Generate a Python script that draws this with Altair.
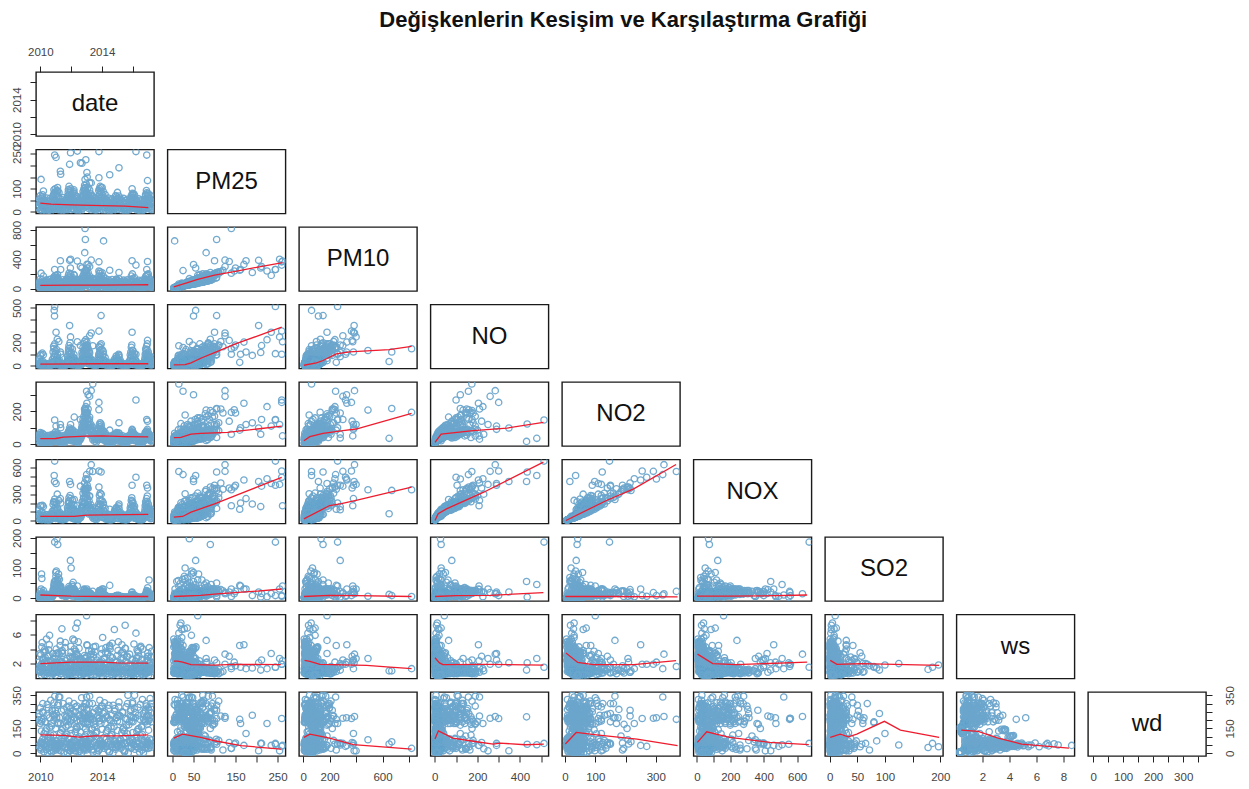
import altair as alt
import pandas as pd

FONT = "Liberation Sans"
COLS = ["date", "PM25", "PM10", "NO", "NO2", "NOX", "SO2", "ws", "wd"]

# date, PM25, PM10, NO, NO2, NOX, SO2, ws, wd
rows_extreme = [
(2010.93,245,260,513,147,672,186,1.5,60),(2010.90,55,63,479,35,510,45,2.7,52),(2010.92,50,115,431,16,442,55,1.1,220),
(2013.94,105,150,434,123,550,3,2.1,55),(2011.90,205,385,348,98,442,20,2.1,16),(2012.90,140,820,148,194,350,5,1.3,30),
(2012.92,105,670,120,218,342,8,1.0,70),(2014.10,5,650,38,35,80,12,1.0,56),(2012.88,80,490,133,208,350,6,2.7,82),
(2013.40,15,63,174,368,555,22,1.6,205),(2013.00,25,245,158,323,520,10,1.3,340),(2013.10,50,328,120,302,470,8,2.2,215),
(2013.30,125,388,284,327,632,14,3.3,222),(2013.20,125,300,260,292,557,18,1.9,212),(2013.80,260,365,300,255,560,8,1.9,210),
(2012.95,225,240,226,229,473,4,1.3,180),(2012.40,262,375,208,50,170,40,2.4,48),(2016.20,260,320,100,270,490,6,1.9,42),
(2016.90,245,260,105,150,400,8,1.5,55),(2011.02,235,180,290,110,420,15,3.4,48),(2011.10,90,130,230,60,300,20,1.0,28),
(2011.20,40,100,210,30,230,18,1.4,340),(2011.96,255,400,250,120,410,30,2.7,15),(2011.95,55,280,80,37,125,125,2.0,50),
(2012.00,30,70,30,20,50,100,1.8,120),(2012.60,212,300,175,150,390,15,2.5,60),(2013.02,170,330,205,250,460,30,4.6,48),
(2013.04,150,280,180,190,400,22,1.7,62),(2013.80,147,240,160,210,380,14,2.2,56),(2011.30,175,380,120,120,250,30,1.3,120),
(2011.32,162,260,100,100,200,40,1.5,180),(2016.95,135,370,220,140,370,20,3.0,65),(2017.05,60,150,30,40,70,60,2.0,200),
(2010.05,140,210,100,60,170,30,1.6,30),(2010.08,45,80,22,30,55,80,1.6,190),(2010.10,30,60,18,25,45,65,2.0,60),
(2015.95,100,380,290,90,400,20,2.5,60),(2011.08,40,135,27,42,70,197,1.8,40),(2011.13,90,150,30,40,75,178,1.2,35),
(2013.00,60,180,45,100,160,10,8.6,48),(2012.40,20,60,12,30,40,5,7.6,50),(2015.50,18,40,8,18,28,3,7.3,58),
(2011.40,28,50,15,28,45,8,6.8,60),(2012.30,35,90,30,70,110,12,6.9,45),(2014.80,22,75,20,60,85,3,6.7,52),
(2016.20,15,35,6,22,30,2,6.2,40),(2012.20,80,180,65,165,240,30,5.2,215),(2010.60,45,90,20,30,55,8,5.9,62),
(2014.50,160,250,30,85,130,42,4.5,205),(2015.10,190,220,90,130,190,8,1.4,230),(2012.70,210,280,115,60,160,3,1.1,60),
]
rows_2010 = [
(2009.92,30,55,20,35,60,6,1.6,240),(2009.95,55,90,60,60,125,10,1.1,200),(2010.00,70,130,90,70,170,22,0.8,180),(2010.03,12,25,5,18,25,3,3.2,60),
(2010.06,48,80,38,52,95,9,1.3,70),(2010.10,8,20,3,14,18,2,4.3,45),(2010.13,65,120,110,65,175,15,1.0,250),(2010.16,24,50,18,30,50,5,2.5,300),
(2010.20,90,170,95,60,160,25,0.7,210),(2010.24,15,30,8,22,32,4,3.6,55),(2010.28,38,65,15,28,45,7,2.2,80),(2010.32,6,15,2,10,12,1,2.8,190),
(2010.37,25,45,10,25,38,5,1.9,25),(2010.42,18,35,4,15,20,3,2.4,230),(2010.47,10,25,3,12,16,2,3.0,90),(2010.52,14,28,2,14,16,3,1.7,275),
(2010.58,7,20,1,8,10,1,4.6,38),(2010.63,20,42,6,20,28,4,1.4,15),(2010.68,12,30,5,22,28,3,2.1,320),(2010.72,28,60,12,34,48,6,1.2,165),
(2010.76,35,75,30,42,75,8,1.8,260),(2010.80,16,36,10,30,42,5,3.4,68),(2010.83,60,110,120,60,185,28,0.9,235),(2010.86,75,145,170,40,215,25,0.8,110),
(2010.88,95,160,150,55,210,30,0.7,200),(2010.90,40,70,85,45,135,38,1.0,30),(2010.94,85,140,190,50,245,25,0.8,345),(2010.97,100,175,130,72,205,30,1.2,260),
]
rows_2011 = [
(2011.00,50,85,50,58,110,85,1.4,75),(2011.03,22,40,15,22,38,30,4.0,50),(2011.06,78,120,140,50,195,35,0.9,215),(2011.09,92,150,75,68,145,45,1.1,40),
(2011.12,105,190,95,40,140,50,0.8,290),(2011.15,35,60,28,30,60,45,2.6,62),(2011.18,62,105,40,44,85,80,1.5,185),(2011.22,18,36,8,20,30,25,3.3,20),
(2011.26,45,80,45,48,95,40,1.7,340),(2011.30,12,28,4,15,20,15,5.1,48),(2011.36,28,55,14,26,42,18,2.3,255),(2011.42,9,24,3,12,16,10,3.8,72),
(2011.48,20,44,5,20,26,12,2.0,300),(2011.55,14,32,3,16,20,8,1.6,95),(2011.62,8,22,2,12,15,6,4.9,55),(2011.68,25,50,8,28,38,7,1.3,220),
(2011.72,32,68,22,38,62,9,1.9,280),(2011.76,68,130,85,62,150,12,0.9,200),(2011.79,42,88,48,60,108,8,1.4,35),(2011.82,96,180,120,75,200,25,0.7,170),
(2011.84,58,110,150,70,225,30,0.8,245),(2011.86,110,210,175,82,260,20,0.6,315),(2011.88,75,160,130,65,200,25,1.0,85),(2011.91,24,48,20,36,58,12,3.0,60),
(2011.93,85,150,200,85,285,20,0.9,190),(2011.97,100,195,155,90,250,25,1.1,270),(2011.98,15,30,10,24,35,8,4.4,42),
]
rows_2012 = [
(2012.02,70,130,115,72,190,25,1.2,235),(2012.05,38,75,60,55,115,15,2.0,50),(2012.08,82,150,145,88,235,28,0.8,25),(2012.11,12,25,6,20,27,6,5.4,40),
(2012.14,55,98,70,62,135,30,1.5,205),(2012.18,95,190,98,78,180,30,1.0,300),(2012.22,30,58,24,40,66,14,2.9,75),(2012.26,44,85,42,50,94,20,1.7,250),
(2012.30,20,40,10,26,36,8,3.7,32),(2012.34,65,125,35,60,96,16,1.3,160),(2012.38,15,35,6,18,24,5,2.6,285),(2012.44,10,26,3,14,18,3,3.1,88),
(2012.50,26,52,8,30,40,6,1.4,225),(2012.56,17,38,5,24,30,4,2.2,12),(2012.60,32,70,16,50,68,6,1.8,195),(2012.64,22,55,20,70,92,7,1.1,265),
(2012.68,48,100,55,100,155,10,0.9,335),(2012.71,60,130,90,125,215,12,1.2,65),(2012.74,38,90,70,110,180,9,1.7,210),(2012.77,88,175,160,150,310,18,0.7,240),
(2012.80,70,150,125,135,260,14,1.0,30),(2012.83,100,200,190,170,360,25,0.6,180),(2012.85,54,120,85,120,205,10,2.1,280),(2012.87,115,230,210,215,425,28,0.8,225),
(2012.89,78,180,145,185,330,22,1.0,105),(2012.91,40,95,60,105,165,14,2.8,55),(2012.93,90,220,175,205,380,20,1.3,150),(2012.96,65,140,100,160,262,16,1.9,300),
(2012.98,120,250,165,190,355,24,0.9,20),
]
rows_2013 = [
(2013.01,85,190,120,175,295,18,1.1,215),(2013.04,25,60,22,70,92,8,4.5,48),(2013.07,70,160,95,150,250,15,1.5,190),(2013.10,105,220,150,215,365,20,0.8,260),
(2013.13,46,100,50,115,165,10,2.4,72),(2013.16,60,130,80,140,225,12,1.2,235),(2013.20,95,170,110,165,280,15,1.0,345),(2013.24,30,72,32,88,120,8,3.2,40),
(2013.28,52,110,60,120,180,9,1.6,205),(2013.33,36,80,25,85,110,6,2.0,90),(2013.38,70,140,45,105,150,7,1.4,300),(2013.43,20,48,10,50,60,4,2.9,25),
(2013.48,28,60,14,60,75,5,1.8,175),(2013.54,15,36,5,30,36,3,3.6,65),(2013.60,22,50,8,38,48,4,1.3,270),(2013.66,12,30,4,24,30,2,2.5,130),
(2013.72,35,78,28,58,86,6,1.1,228),(2013.76,50,105,70,80,152,9,0.9,15),(2013.79,92,170,100,90,190,15,0.8,250),(2013.83,100,205,165,120,285,25,0.7,195),
(2013.86,74,150,130,105,235,22,1.0,320),(2013.88,110,230,180,130,310,25,1.2,78),(2013.91,58,120,90,95,185,18,2.1,45),(2013.95,85,175,190,110,300,25,0.9,285),
(2013.98,40,88,45,62,105,12,3.4,60),
]
rows_2014 = [
(2014.01,105,215,140,85,225,30,0.9,210),(2014.04,22,50,12,30,42,8,5.6,50),(2014.08,88,170,125,82,205,30,1.0,240),(2014.12,60,115,50,60,110,12,1.5,95),
(2014.16,32,64,25,42,66,5,2.8,305),(2014.20,75,140,72,70,142,10,1.2,180),(2014.25,18,36,6,20,26,3,4.2,42),(2014.30,40,80,20,36,55,4,1.9,225),
(2014.36,12,28,3,16,20,2,3.3,68),(2014.42,25,55,7,24,32,3,1.6,270),(2014.48,8,20,2,10,12,1,2.4,10),(2014.54,15,34,3,16,20,2,3.0,200),
(2014.60,20,45,5,22,28,2,1.2,115),(2014.66,10,24,2,12,14,1,4.8,55),(2014.72,28,60,10,32,42,3,1.4,290),(2014.78,35,75,25,45,70,4,0.9,160),
(2014.82,45,95,60,60,120,5,1.1,255),(2014.86,30,65,38,50,90,4,2.2,75),(2014.90,55,120,45,55,100,6,1.5,35),(2014.94,65,130,70,70,140,8,0.8,215),
(2014.98,42,90,30,48,78,5,3.1,62),
]
rows_2015 = [
(2015.02,58,110,55,62,118,6,1.3,230),(2015.06,20,42,8,24,32,2,5.0,46),(2015.10,68,135,75,66,140,7,0.9,310),(2015.15,35,70,20,38,58,3,2.1,190),
(2015.20,48,92,30,45,75,4,1.6,85),(2015.26,15,30,4,18,22,1,3.5,52),(2015.32,28,58,9,26,35,2,1.8,250),(2015.38,12,28,3,15,18,1,2.7,20),
(2015.44,18,40,3,14,17,1,3.2,135),(2015.50,9,22,2,10,12,1,4.1,60),(2015.56,14,32,2,12,14,1,1.5,280),(2015.62,7,18,1,8,9,1,2.9,205),
(2015.68,22,48,6,24,30,2,1.2,350),(2015.74,30,65,15,35,50,2,1.0,172),(2015.79,20,45,12,30,42,2,3.3,70),(2015.83,42,90,95,52,145,5,0.8,225),
(2015.87,58,125,120,60,180,6,0.9,265),(2015.90,70,170,160,70,230,10,1.1,38),(2015.93,48,100,180,75,260,18,0.7,195),(2015.97,80,200,135,85,220,12,1.3,300),
(2015.99,26,55,35,42,78,4,2.6,80),
]
rows_2016 = [
(2016.03,62,135,90,65,155,7,1.2,215),(2016.07,18,38,7,22,30,2,4.7,50),(2016.11,72,150,105,60,165,10,0.8,350),(2016.16,30,68,28,42,70,3,2.3,245),
(2016.21,45,100,40,50,90,4,1.5,100),(2016.27,12,26,3,16,19,1,3.9,58),(2016.33,25,52,8,24,32,2,1.7,278),(2016.39,8,20,2,10,12,1,3.0,30),
(2016.45,15,34,3,14,17,1,2.1,205),(2016.51,10,24,2,12,14,1,4.4,45),(2016.57,20,42,5,18,23,2,1.4,158),(2016.62,6,16,1,8,9,1,2.6,325),
(2016.67,16,36,6,22,28,2,1.1,240),(2016.72,28,62,15,36,52,3,1.9,75),(2016.77,38,85,50,50,100,4,0.9,195),(2016.80,55,120,100,70,170,8,0.8,260),
(2016.83,75,165,145,72,215,15,1.0,30),(2016.86,50,115,130,65,195,12,1.3,300),(2016.89,82,180,170,80,250,25,0.7,220),(2016.92,40,95,75,55,130,10,2.4,55),
(2016.94,65,190,190,90,280,20,1.2,175),(2016.97,28,70,50,60,110,8,3.5,65),(2017.00,72,200,120,70,190,18,1.0,275),(2017.03,48,120,85,55,140,12,1.6,230),
(2017.06,18,45,12,28,40,5,4.2,48),(2017.09,56,130,70,50,120,10,1.1,88),(2017.12,38,90,40,45,85,8,2.0,330),(2017.15,10,30,5,18,23,3,2.9,35),
(2017.18,44,100,30,40,70,6,0.9,190),(2017.21,22,55,18,30,48,4,3.0,280),
]
core_a = [
(2009.88,18,30,6,20,28,4,2.2,220),(2009.90,42,70,35,40,78,8,1.0,45),(2009.98,8,16,2,10,13,2,3.4,35),(2010.01,35,50,12,28,42,6,1.5,275),
(2010.04,58,75,25,38,65,12,0.9,20),(2010.09,26,34,4,12,17,3,1.9,205),(2010.12,5,12,1,6,8,1,4.9,62),(2010.15,74,88,40,48,90,18,1.1,85),
(2010.19,16,28,14,35,50,5,2.7,245),(2010.23,46,62,8,20,30,7,1.3,10),(2010.27,10,18,3,9,13,2,3.9,48),(2010.31,32,48,2,14,17,4,0.8,190),
(2010.35,22,30,16,34,52,6,1.1,40),(2010.40,3,8,1,5,6,1,5.4,50),(2010.45,12,20,9,24,34,3,2.0,295),(2010.50,5,12,4,17,22,1,0.7,75),
(2010.55,24,60,2,6,9,2,3.1,30),(2010.60,8,14,7,28,36,2,1.2,215),(2010.65,16,22,1,9,10,1,2.4,95),(2010.70,4,10,22,42,66,3,0.8,55),
(2010.74,42,95,10,16,27,4,1.6,180),(2010.78,22,32,55,50,108,7,0.6,260),(2010.82,66,82,28,30,60,22,1.4,68),(2010.85,10,18,40,38,80,14,1.0,15),
(2010.89,34,45,75,42,120,42,0.7,305),(2010.91,80,105,12,22,36,50,2.1,230),(2010.96,52,66,105,48,155,34,0.9,40),(2010.99,14,26,6,18,25,58,3.0,55),
(2011.01,28,38,10,30,42,72,1.7,20),(2011.04,46,58,32,35,68,90,1.1,240),(2011.07,18,24,20,26,48,48,2.2,75),(2011.11,70,92,62,52,118,60,0.8,180),
(2011.14,10,18,12,20,33,55,3.5,40),(2011.17,36,46,6,16,23,68,1.9,300),(2011.21,84,110,18,28,48,38,1.4,60),(2011.24,24,30,25,36,62,62,0.9,215),
(2011.28,6,14,2,10,12,30,4.5,55),(2011.33,38,52,3,12,16,35,2.2,15),(2011.38,15,22,8,22,31,22,1.2,85),(2011.44,5,11,1,7,8,16,3.4,45),
(2011.50,30,62,2,8,11,10,0.9,265),(2011.58,10,16,12,34,48,8,1.5,35),(2011.65,3,9,5,24,30,5,2.4,190),(2011.70,18,26,28,48,78,10,0.8,70),
(2011.74,52,110,15,25,42,7,2.7,225),(2011.78,12,20,60,58,120,18,0.6,25),(2011.81,84,100,42,40,85,14,1.3,210),(2011.85,30,42,95,60,160,38,0.7,90),
(2011.87,66,85,20,34,56,32,1.0,285),(2011.92,45,58,110,55,170,26,0.9,60),(2011.94,92,118,35,45,82,22,1.6,240),(2011.99,8,15,8,30,40,12,3.6,30),
]
core_b = [
(2012.01,52,68,48,60,110,22,1.1,200),(2012.04,25,34,85,70,158,16,0.7,65),(2012.07,76,98,25,38,65,44,1.3,30),(2012.10,15,24,12,32,46,38,2.9,50),
(2012.13,40,54,55,48,105,52,0.9,255),(2012.16,88,120,70,62,135,26,0.8,80),(2012.20,10,18,4,16,21,12,4.0,40),(2012.24,34,72,30,46,78,18,1.6,15),
(2012.28,22,30,2,14,17,10,2.1,280),(2012.32,50,62,18,32,52,12,1.2,70),(2012.36,6,12,8,28,37,3,3.2,200),(2012.41,16,24,3,10,14,4,1.5,90),
(2012.46,4,10,1,6,8,2,5.0,48),(2012.52,36,80,12,22,35,4,0.9,25),(2012.58,9,16,10,42,54,3,1.3,235),(2012.62,24,34,4,32,38,5,2.7,60),
(2012.66,5,12,32,66,100,6,0.8,215),(2012.69,40,54,15,48,65,8,1.4,80),(2012.72,14,22,50,88,140,5,0.7,40),(2012.75,72,92,28,64,94,10,1.0,280),
(2012.78,28,42,105,112,220,12,0.6,190),(2012.81,55,75,62,96,160,8,0.9,65),(2012.84,92,125,130,125,258,30,0.7,20),(2012.86,34,50,40,80,122,7,3.1,245),
(2012.88,104,145,95,110,208,16,1.0,85),(2012.90,20,38,75,125,202,9,1.7,300),(2012.92,60,90,150,160,312,19,0.8,215),(2012.94,44,62,115,140,258,12,1.2,50),
(2012.97,82,110,55,100,158,15,2.2,35),(2012.99,30,45,125,178,305,14,1.1,265),(2013.02,50,72,30,84,116,9,3.0,70),(2013.05,96,128,170,195,368,23,0.7,175),
(2013.08,36,55,85,120,208,10,1.4,40),(2013.11,72,100,60,115,178,14,0.9,230),(2013.14,14,28,15,60,77,5,3.8,30),(2013.18,54,74,125,150,278,13,0.8,300),
(2013.22,20,32,40,92,134,7,1.8,85),(2013.26,78,96,35,76,112,11,1.2,205),(2013.30,8,16,18,56,76,3,2.6,55),(2013.36,28,40,8,42,52,5,1.4,20),
(2013.41,50,62,4,26,31,4,0.9,245),(2013.46,10,18,12,48,62,3,3.2,70),(2013.52,35,78,2,16,19,3,1.7,195),(2013.58,6,14,6,30,37,2,4.4,45),
(2013.64,15,26,1,12,14,2,1.1,90),(2013.70,4,10,24,46,72,3,0.8,30),(2013.74,26,38,8,26,36,4,2.0,260),(2013.78,60,76,48,56,106,9,1.0,60),
(2013.81,18,30,85,68,155,14,0.7,215),(2013.84,76,95,26,36,64,20,1.5,25),(2013.87,44,60,110,74,186,24,0.8,270),(2013.90,90,118,60,58,120,12,1.2,75),
(2013.93,32,45,140,85,228,19,0.7,180),(2013.96,64,82,34,44,80,8,2.4,40),(2013.99,12,20,10,28,39,5,4.0,55),
]
core_c = [
(2014.02,48,62,85,70,158,18,0.9,285),(2014.05,72,98,30,40,72,22,1.4,60),(2014.09,22,32,100,78,180,14,0.7,205),(2014.13,40,50,12,26,39,8,2.6,30),
(2014.18,58,72,44,52,98,7,1.1,250),(2014.22,8,16,4,16,21,2,3.6,45),(2014.27,32,44,28,44,74,4,1.3,85),(2014.33,20,26,2,10,13,2,2.1,215),
(2014.38,44,90,6,16,23,3,0.9,20),(2014.44,6,12,10,30,41,2,1.5,290),(2014.50,3,9,1,6,7,1,4.3,55),(2014.56,26,62,2,8,11,1,1.9,75),
(2014.62,9,15,5,26,32,1,0.8,230),(2014.68,18,24,1,9,11,1,2.8,35),(2014.74,4,10,18,38,58,2,0.7,185),(2014.80,40,50,8,18,27,3,1.7,70),
(2014.84,12,20,48,52,102,4,0.6,270),(2014.88,70,85,22,32,55,7,1.2,25),(2014.92,24,36,85,62,148,6,0.8,215),(2014.96,50,65,35,40,76,5,2.3,50),
(2015.00,84,105,62,55,118,9,0.9,195),(2015.04,10,18,6,18,25,2,3.8,40),(2015.08,40,52,100,68,168,8,0.7,280),(2015.13,60,76,16,30,47,5,1.4,75),
(2015.18,16,26,48,50,98,3,1.0,225),(2015.23,32,42,5,16,22,2,2.7,30),(2015.29,6,12,2,12,14,1,4.6,60),(2015.35,22,30,14,34,49,2,1.1,245),
(2015.41,38,80,2,8,11,1,1.6,90),(2015.47,4,10,5,24,30,1,0.8,15),(2015.53,15,20,1,7,9,1,2.3,210),(2015.59,3,8,10,28,38,1,1.3,65),
(2015.65,12,18,3,16,20,1,3.0,300),(2015.71,24,36,24,40,65,2,0.7,45),(2015.76,8,16,40,48,90,2,0.9,190),(2015.81,50,62,10,20,31,3,1.9,70),
(2015.85,22,34,65,55,122,4,0.7,255),(2015.89,62,78,30,35,66,7,1.3,30),(2015.92,14,24,90,60,152,8,0.6,220),(2015.96,36,50,55,48,104,9,1.8,85),
(2015.98,72,90,100,70,172,10,0.9,310),(2016.01,44,60,130,72,204,6,0.8,190),(2016.05,78,100,40,46,88,9,1.5,55),(2016.09,14,22,70,58,130,4,0.7,270),
(2016.13,52,65,15,28,44,5,2.0,25),(2016.18,26,38,50,48,100,3,1.1,215),(2016.24,36,48,6,18,25,2,2.8,75),(2016.30,6,14,12,30,43,1,1.4,40),
(2016.36,18,26,1,9,11,1,3.5,230),(2016.42,30,70,3,12,16,1,0.9,60),(2016.48,4,10,8,26,35,1,1.8,295),(2016.54,12,18,1,6,8,1,2.5,85),
(2016.60,3,9,16,34,50,2,0.7,20),(2016.65,22,30,4,14,19,1,4.0,50),(2016.70,8,14,30,46,76,2,0.8,205),(2016.75,48,60,9,20,30,3,1.5,65),
(2016.79,18,28,70,58,130,5,0.6,250),(2016.82,70,88,26,35,62,8,1.1,35),(2016.85,30,42,100,66,168,9,0.8,190),(2016.88,92,115,50,50,100,14,1.3,285),
(2016.91,14,24,85,60,148,16,0.7,45),(2016.93,58,72,140,78,220,22,0.9,230),(2016.96,38,52,30,42,72,34,2.5,75),(2016.98,80,105,70,58,130,16,1.0,200),
(2017.01,20,30,45,50,96,10,3.0,30),(2017.04,60,78,95,62,158,14,0.8,260),(2017.08,30,42,20,32,52,18,1.4,60),(2017.11,72,92,60,50,112,12,1.1,215),
(2017.14,14,22,35,40,76,6,2.2,45),(2017.17,48,60,10,22,33,7,1.7,300),(2017.20,34,46,75,50,125,9,0.9,80),(2017.23,8,16,6,20,27,3,3.7,55),
]
core_mid = [
(2010.25,52,88,12,40,52,8,0.5,120),(2010.34,44,100,22,48,70,10,3.7,135),(2010.41,60,118,8,30,38,5,0.9,148),(2010.48,36,72,18,52,68,12,1.1,5),
(2010.54,48,85,5,35,40,6,3.9,98),(2010.62,58,125,15,44,60,9,0.3,155),(2010.67,40,92,25,55,78,7,1.5,110),(2010.73,30,55,3,26,29,4,0.4,8),
(2011.31,56,95,24,50,72,34,0.6,125),(2011.39,42,78,12,38,50,28,3.6,140),(2011.46,62,120,6,30,36,14,1.0,150),(2011.53,34,66,20,52,70,18,0.3,6),
(2011.60,50,105,4,28,32,11,4.2,105),(2011.66,44,88,16,46,62,13,0.5,160),(2011.71,58,130,28,58,85,15,1.3,115),(2011.75,36,62,8,34,42,9,0.4,3),
(2012.27,60,100,20,52,72,22,0.5,130),(2012.33,46,86,28,60,86,18,3.4,145),(2012.39,66,115,7,34,42,14,0.8,155),(2012.45,38,70,14,50,64,9,0.3,9),
(2012.51,54,108,5,36,41,8,4.1,100),(2012.57,46,92,22,66,88,7,0.5,165),(2012.63,62,135,30,80,108,9,1.2,125),(2012.67,40,72,12,62,74,5,0.4,4),
(2013.27,62,120,42,104,145,12,0.5,118),(2013.32,48,90,34,96,128,8,3.7,142),(2013.37,66,132,20,78,98,7,0.9,150),(2013.42,40,75,16,72,88,6,0.3,7),
(2013.47,56,110,6,46,52,5,4.3,108),(2013.53,44,85,18,58,76,4,0.5,158),(2013.59,60,128,26,66,92,6,1.2,122),(2013.67,36,64,7,38,45,3,0.4,2),
(2014.28,54,96,18,46,64,7,0.6,128),(2014.35,44,78,26,52,78,5,3.5,138),(2014.41,60,118,6,28,34,3,0.9,152),(2014.47,34,68,14,44,58,3,0.3,6),
(2014.53,50,102,4,30,34,2,4.0,104),(2014.59,42,86,18,46,64,3,0.5,162),(2014.65,56,122,22,50,72,4,1.2,112),(2014.71,32,58,5,28,33,2,0.4,4),
(2015.28,52,94,16,44,60,5,0.6,124),(2015.34,42,76,22,50,72,4,3.6,146),(2015.40,58,115,5,26,31,2,0.9,154),(2015.46,32,64,12,40,52,2,0.3,8),
(2015.52,48,98,4,28,32,2,4.1,102),(2015.58,40,82,16,42,58,2,0.5,168),(2015.64,54,118,20,48,68,3,1.2,118),(2015.70,30,56,6,30,36,2,0.4,2),
(2016.26,50,92,14,42,56,4,0.6,132),(2016.32,40,74,20,48,68,3,3.7,144),(2016.38,56,112,5,26,31,2,0.9,150),(2016.44,30,62,11,38,49,2,0.3,7),
(2016.50,46,95,3,26,29,1,4.2,106),(2016.56,38,78,15,40,55,2,0.5,163),(2016.61,52,115,18,46,64,3,1.2,114),(2016.69,28,54,6,28,34,2,0.4,5),
(2010.07,34,68,14,40,54,14,0.4,135),(2010.99,48,90,30,46,76,20,0.4,150),(2011.98,52,96,28,42,70,12,0.5,142),(2012.99,46,88,38,70,108,9,0.4,128),
(2014.00,50,96,32,52,84,9,0.4,145),(2015.01,44,82,26,42,68,5,0.4,138),(2016.00,48,92,30,44,74,5,0.5,126),(2017.02,42,84,24,40,64,7,0.4,140),
]

# smooth lines: (x, y) pairs per panel
line_PM25_date = [(2010,38),(2010.7,33),(2012,30),(2014,27),(2015.5,25),(2017,18)]
line_PM10_date = [(2010,45),(2012,47),(2014,48),(2016,50),(2017,52)]
line_PM10_PM25 = [(3,22),(30,70),(60,125),(100,185),(150,235),(200,290),(262,355)]
line_NO_date = [(2010,15),(2014,18),(2017,18)]
line_NO_PM25 = [(3,8),(30,10),(44,26),(70,70),(100,115),(150,190),(200,255),(260,335)]
line_NO_PM10 = [(5,5),(100,25),(150,46),(250,104),(350,120),(650,140),(820,168)]
line_NO2_date = [(2010,33),(2011,34),(2011.5,42),(2013,48),(2014,50),(2015.5,46),(2017,44)]
line_NO2_PM25 = [(3,39),(20,41),(44,61),(67,65),(131,72),(202,92),(260,110)]
line_NO2_PM10 = [(5,20),(50,45),(150,65),(300,82),(400,92),(820,188)]
line_NO2_NO = [(1,10),(30,61),(180,82),(340,98),(510,133)]
line_NOX_date = [(2010,50),(2012.2,50),(2013,65),(2017,72)]
line_NOX_PM25 = [(3,41),(24,49),(44,98),(100,190),(260,490)]
line_NOX_PM10 = [(5,22),(200,172),(280,190),(400,229),(820,379)]
line_NOX_NO = [(1,4),(16,79),(55,135),(230,322),(510,660)]
line_NOX_NO2 = [(3,4),(137,229),(227,360),(367,634)]
line_SO2_date = [(2010,10),(2012,6),(2014,5),(2017,5)]
line_SO2_PM25 = [(3,5),(67,9),(107,14),(202,23),(260,30)]
line_SO2_PM10 = [(5,5),(200,9),(400,8),(820,5)]
line_SO2_NO = [(1,5),(100,8),(260,9),(510,18)]
line_SO2_NO2 = [(1,5),(150,5),(372,4)]
line_SO2_NOX = [(1,6),(200,6),(400,7),(660,10)]
line_ws_date = [(2010,2.0),(2011,2.1),(2012,2.2),(2014,2.2),(2015,2.1),(2017,2.05)]
line_ws_PM25 = [(3,2.35),(12,2.35),(24,2.2),(44,1.85),(100,1.8),(147,1.9),(258,1.85)]
line_ws_PM10 = [(10,2.45),(51,2.3),(126,1.9),(227,1.85),(480,1.75),(631,1.55),(820,1.3)]
line_ws_NO = [(1,2.8),(22,2.1),(38,1.85),(243,1.9),(510,1.8)]
line_ws_NO2 = [(3,3.45),(42,2.15),(93,1.85),(227,1.85),(367,2.4)]
line_ws_NOX = [(4,3.3),(95,2.0),(236,1.85),(660,2.2)]
line_ws_SO2 = [(1,2.45),(13,1.9),(58,2.0),(198,1.75)]
line_wd_date = [(2010,112),(2011.5,108),(2012.5,98),(2013.5,105),(2015,105),(2017,112)]
line_wd_PM25 = [(3,92),(24,116),(67,96),(100,76),(163,46),(258,26)]
line_wd_PM10 = [(5,96),(51,116),(200,92),(380,52),(820,26)]
line_wd_NO = [(1,86),(17,136),(85,92),(196,70),(275,56),(306,62),(425,52),(512,56)]
line_wd_NO2 = [(1,56),(37,126),(104,112),(238,86),(372,46)]
line_wd_NOX = [(3,66),(59,130),(196,96),(438,66),(670,52)]
line_wd_SO2 = [(1,96),(19,116),(34,100),(49,116),(99,193),(128,140),(198,96)]
line_wd_ws = [(0.43,140),(1.68,132),(3.17,92),(4.9,56),(8.4,32)]

LINES = {
    ("PM25","date"):line_PM25_date,("PM10","date"):line_PM10_date,("PM10","PM25"):line_PM10_PM25,
    ("NO","date"):line_NO_date,("NO","PM25"):line_NO_PM25,("NO","PM10"):line_NO_PM10,
    ("NO2","date"):line_NO2_date,("NO2","PM25"):line_NO2_PM25,("NO2","PM10"):line_NO2_PM10,("NO2","NO"):line_NO2_NO,
    ("NOX","date"):line_NOX_date,("NOX","PM25"):line_NOX_PM25,("NOX","PM10"):line_NOX_PM10,("NOX","NO"):line_NOX_NO,("NOX","NO2"):line_NOX_NO2,
    ("SO2","date"):line_SO2_date,("SO2","PM25"):line_SO2_PM25,("SO2","PM10"):line_SO2_PM10,("SO2","NO"):line_SO2_NO,("SO2","NO2"):line_SO2_NO2,("SO2","NOX"):line_SO2_NOX,
    ("ws","date"):line_ws_date,("ws","PM25"):line_ws_PM25,("ws","PM10"):line_ws_PM10,("ws","NO"):line_ws_NO,("ws","NO2"):line_ws_NO2,("ws","NOX"):line_ws_NOX,("ws","SO2"):line_ws_SO2,
    ("wd","date"):line_wd_date,("wd","PM25"):line_wd_PM25,("wd","PM10"):line_wd_PM10,("wd","NO"):line_wd_NO,("wd","NO2"):line_wd_NO2,("wd","NOX"):line_wd_NOX,("wd","SO2"):line_wd_SO2,("wd","ws"):line_wd_ws,
}

# axis settings per variable
X_DOMAIN = {"date":[2009.72,2017.37],"PM25":[-12,269],"PM10":[-32,861],"NO":[-20,534],"NO2":[-10,380],"NOX":[-20,686],"SO2":[-8.5,205],"ws":[0.08,8.81],"wd":[-17,376]}
Y_DOMAIN = {"date":[2009.8,2017.2],"PM25":[-7,269],"PM10":[-33,840],"NO":[-23,530],"NO2":[-12,380],"NOX":[-30,690],"SO2":[-10,203],"ws":[-0.06,8.78],"wd":[-16,370]}
X_TICKS = {"date":[2010,2012,2014,2016],"PM25":[0,50,100,150,200,250],"PM10":[0,200,400,600,800],"NO":[0,100,200,300,400,500],"NO2":[0,100,200,300],"NOX":[0,100,200,300,400,500,600],"SO2":[0,50,100,150,200],"ws":[2,4,6,8],"wd":[0,50,100,150,200,250,300,350]}
X_LABELS = {"date":[2010,2014],"PM25":[0,50,150,250],"PM10":[0,200,600],"NO":[0,200,400],"NO2":[0,100,300],"NOX":[0,200,400,600],"SO2":[0,50,100,200],"ws":[2,4,6,8],"wd":[0,100,200,300]}
Y_TICKS = {"date":[2010,2012,2014,2016],"PM25":[0,50,100,150,200,250],"PM10":[0,200,400,600,800],"NO":[0,100,200,300,400,500],"NO2":[0,100,200,300],"NOX":[0,100,200,300,400,500,600],"SO2":[0,50,100,150,200],"ws":[2,4,6,8],"wd":[0,50,100,150,200,250,300,350]}
Y_LABELS = {"date":[2010,2014],"PM25":[0,100,250],"PM10":[0,400,800],"NO":[0,200,500],"NO2":[0,200],"NOX":[0,300,600],"SO2":[0,100,200],"ws":[2,6],"wd":[0,150,350]}

W, H, GAP = 118, 64, 13.5
LABEL_COLOR = "#444444"
TICK_COLOR = "#222222"
POINT_COLOR = "#6CA6CD"

rows = rows_extreme + rows_2010 + rows_2011 + rows_2012 + rows_2013 + rows_2014 + rows_2015 + rows_2016 + core_a + core_b + core_c + core_mid
df = pd.DataFrame(rows, columns=COLS)

LABEL_PAD = {"top": 8.5, "bottom": 9, "left": 8, "right": 12}


def make_axis(values, labels, orient):
    test = " || ".join(f"datum.value == {v}" for v in labels)
    return alt.Axis(
        orient=orient, values=values, title=None, grid=False, domain=False,
        tickColor=TICK_COLOR, tickSize=6, tickWidth=1, labelColor=LABEL_COLOR,
        labelFont=FONT, labelFontSize=11.5, labelOverlap=False, labelFlush=False, format="d",
        labelPadding=LABEL_PAD[orient],
        labelAngle=0 if orient in ("top", "bottom") else 270,
        labelExpr=f"({test}) ? datum.label : ''",
    )


def x_enc(var, orient=None):
    ax = make_axis(X_TICKS[var], X_LABELS[var], orient) if orient else None
    return alt.X(f"{var}:Q", scale=alt.Scale(domain=X_DOMAIN[var], nice=False, zero=False), axis=ax)


def y_enc(var, orient=None):
    ax = make_axis(Y_TICKS[var], Y_LABELS[var], orient) if orient else None
    return alt.Y(f"{var}:Q", scale=alt.Scale(domain=Y_DOMAIN[var], nice=False, zero=False), axis=ax)


def diag_panel(i, var):
    label_df = pd.DataFrame({"label": [var]})
    text = alt.Chart(label_df).mark_text(font=FONT, fontSize=24, color="#111111").encode(
        text="label:N", x=alt.value(W / 2), y=alt.value(H / 2)
    )
    if i == 0:
        base = alt.Chart(df).mark_point(opacity=0).encode(x=x_enc(var, "top"), y=y_enc(var, "left"))
        return alt.layer(base, text).properties(width=W, height=H)
    if i == 8:
        base = alt.Chart(df).mark_point(opacity=0).encode(x=x_enc(var, "bottom"), y=y_enc(var, "right"))
        return alt.layer(base, text).properties(width=W, height=H)
    return text.properties(width=W, height=H)


def scatter_panel(r, c):
    yv, xv = COLS[r], COLS[c]
    xo = "bottom" if r == 8 else None
    yo = "left" if c == 0 else None
    pts = alt.Chart(df).mark_point(
        shape="circle", filled=False, size=40, strokeWidth=1.3, color=POINT_COLOR, opacity=0.95, clip=True
    ).encode(x=x_enc(xv, xo), y=y_enc(yv, yo))
    line_df = pd.DataFrame(LINES[(yv, xv)], columns=[xv, yv])
    line = alt.Chart(line_df).mark_line(color="#EE1C2E", strokeWidth=1.3, clip=True).encode(
        x=x_enc(xv, xo), y=y_enc(yv, yo)
    )
    return alt.layer(pts, line).properties(width=W, height=H)


def blank():
    return alt.Chart(pd.DataFrame({"v": [0]})).mark_point(opacity=0).encode(
        x=alt.value(0), y=alt.value(0)
    ).properties(width=W, height=H, view=alt.ViewBackground(stroke="transparent"))


panels = []
for r in range(9):
    for c in range(9):
        if c < r:
            panels.append(scatter_panel(r, c))
        elif c == r:
            panels.append(diag_panel(r, COLS[r]))
        else:
            panels.append(blank())

chart = alt.concat(*panels, columns=9, spacing=GAP, bounds="flush", align="all").properties(
    title=alt.TitleParams(
        "Değişkenlerin Kesişim ve Karşılaştırma Grafiği", font=FONT, fontSize=22, fontWeight="bold",
        color="#111111", anchor="middle", offset=14,
    ),
    padding={"left": 2, "top": 0, "right": 2, "bottom": 0},
    background="white",
).configure_view(stroke="#1a1a1a", strokeWidth=1.4)

chart.save("out.html", embed_options={"renderer": "svg", "actions": False})
